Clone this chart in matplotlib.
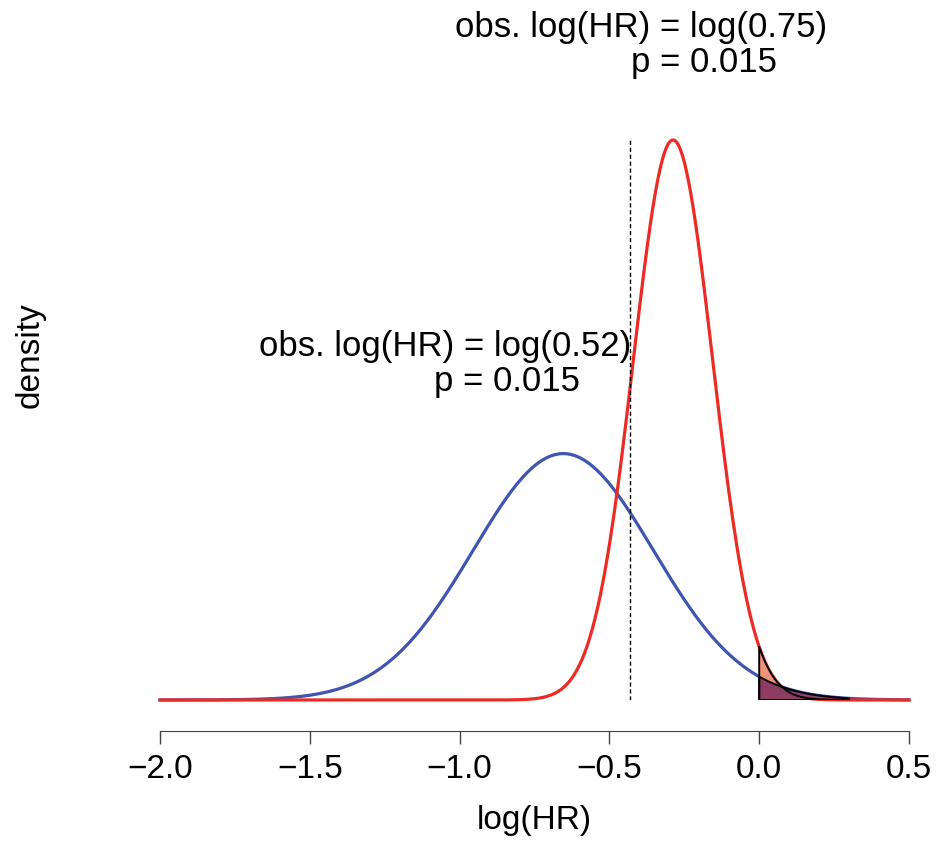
import numpy as np
import matplotlib
matplotlib.use("Agg")
import matplotlib.pyplot as plt
from math import erf, sqrt

plt.rcParams['font.family'] = ['Liberation Sans', 'DejaVu Sans']

# observed hazard ratios and their one-sided p-values
obs_hr = [0.52, 0.75]
p_values = [0.015, 0.015]
line_colors = ['#3F55B0', '#EE2A24']
tail_colors = ['#7E2D5E', '#F0927A']
threshold_hr = 0.65
tail_range = [0.0, 0.3]
xticks = [-2.0, -1.5, -1.0, -0.5, 0.0, 0.5]


def z_upper(p):
    # inverse of upper-tail normal prob, by bisection
    lo, hi = 0.0, 10.0
    for _ in range(100):
        mid = (lo + hi) / 2
        if 0.5 * (1 - erf(mid / sqrt(2))) > p:
            lo = mid
        else:
            hi = mid
    return (lo + hi) / 2


def dnorm(x, m, s):
    return np.exp(-0.5 * ((x - m) / s) ** 2) / (s * np.sqrt(2 * np.pi))


fig = plt.figure(figsize=(9.37, 8.41), dpi=100)
ax = fig.add_axes([160 / 937, 141 / 841, 749 / 937, 600 / 841])

x = np.linspace(-2.0, 0.5, 600)
means = [np.log(h) for h in obs_hr]
sds = [-m / z_upper(p) for m, p in zip(means, p_values)]

for m, s, c in zip(means, sds, line_colors):
    ax.plot(x, dnorm(x, m, s), color=c, lw=2.3, clip_on=False, zorder=2)

red_peak = dnorm(means[1], means[1], sds[1])
ax.vlines(np.log(threshold_hr), 0, red_peak, colors='black', linestyles=(0, (3, 2)), lw=1)

xt = np.linspace(tail_range[0], tail_range[1], 200)
# red tail first, blue tail over it
for i, alpha in [(1, 1.0), (0, 0.85)]:
    yt = dnorm(xt, means[i], sds[i])
    px = np.concatenate([[xt[0]], xt, [xt[-1]]])
    py = np.concatenate([[0], yt, [0]])
    ax.fill(px, py, facecolor=tail_colors[i], alpha=alpha, edgecolor='none', zorder=3)
for i in [1, 0]:
    yt = dnorm(xt, means[i], sds[i])
    px = np.concatenate([[xt[0]], xt, [xt[-1]], [xt[0]]])
    py = np.concatenate([[0], yt, [0], [0]])
    ax.plot(px, py, color='black', lw=1.4, zorder=4)

ax.set_xlim(-2.0, 0.5)
ax.set_ylim(0, 600 / 186.1)

for s in ['top', 'right', 'left']:
    ax.spines[s].set_visible(False)
ax.spines['bottom'].set_position(('outward', 22))
ax.spines['bottom'].set_color('#444444')
ax.set_yticks([])
ax.set_xticks(xticks)
ax.set_xticklabels([f"{t:.1f}".replace('-', '\u2212') for t in xticks], fontsize=24)
ax.tick_params(axis='x', length=9, width=1, color='#444444', pad=8)
ax.set_xlabel('log(HR)', fontsize=24, labelpad=14)
fig.text(30 / 937, 1 - 355 / 841, 'density', rotation=90, fontsize=24, ha='center', va='center')

fs = 25
ax.text(-0.3945, 3.611, f'obs. log(HR) = log({obs_hr[1]:.2f})', fontsize=fs, ha='center', va='center')
ax.text(-0.184, 3.428, f'p = {p_values[1]}', fontsize=fs, ha='center', va='center')
ax.text(-1.049, 1.897, f'obs. log(HR) = log({obs_hr[0]:.2f})', fontsize=fs, ha='center', va='center')
ax.text(-0.842, 1.714, f'p = {p_values[0]}', fontsize=fs, ha='center', va='center')

fig.savefig('out.png', dpi=100)
